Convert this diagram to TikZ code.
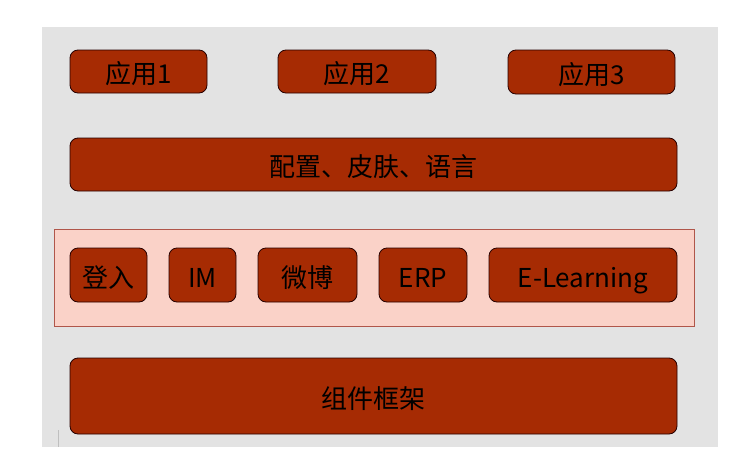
\documentclass[tikz,border=0pt]{standalone}
\usepackage{fontspec}
\setmainfont{Noto Sans CJK SC}
\begin{document}
\begin{tikzpicture}[x=1pt,y=-1pt,
  blk/.style={draw=black!75!red!60!black, line width=0.8pt, fill=boxred, rounded corners=8pt,
    inner sep=0pt, font=\fontsize{26}{28}\selectfont, text=black, text height=24.5pt, text depth=0pt},
]
\definecolor{boxred}{HTML}{A62B03}
\definecolor{bandpink}{HTML}{FAD2C8}
\definecolor{bandedge}{HTML}{B0564A}
\definecolor{bggrey}{HTML}{E3E3E3}
\useasboundingbox (0,0) rectangle (742,469);
\fill[white] (0,0) rectangle (742,469);
\fill[bggrey] (42,27) rectangle (718,447);
\draw[black!25, line width=1pt] (58,430) -- (58,447);
% application layer
\node[blk, minimum width=137pt, minimum height=43pt] (a1) at (138.5,71.5) {应用1};
\node[blk, minimum width=158pt, minimum height=43pt] (a2) at (357,71.5) {应用2};
\node[blk, minimum width=167pt, minimum height=44pt] (a3) at (591.5,72) {应用3};
% config layer
\node[blk, minimum width=607pt, minimum height=53pt] (cfg) at (373.5,164.5) {配置、皮肤、语言};
% component band
\node[draw=bandedge, fill=bandpink, line width=0.8pt, minimum width=640pt, minimum height=97pt, inner sep=0pt] (band) at (374,277.5) {};
\node[blk, minimum width=77pt, minimum height=54pt] (login) at (108.5,275) {登入};
\node[blk, minimum width=67pt, minimum height=54pt] (im) at (202.5,275) {IM};
\node[blk, minimum width=99pt, minimum height=54pt] (wb) at (307.5,275) {微博};
\node[blk, minimum width=88pt, minimum height=54pt] (erp) at (423,275) {ERP};
\node[blk, minimum width=188pt, minimum height=54pt] (el) at (583,275) {E-Learning};
% framework
\node[blk, minimum width=607pt, minimum height=76pt] (core) at (373.5,396) {组件框架};
\end{tikzpicture}
\end{document}
